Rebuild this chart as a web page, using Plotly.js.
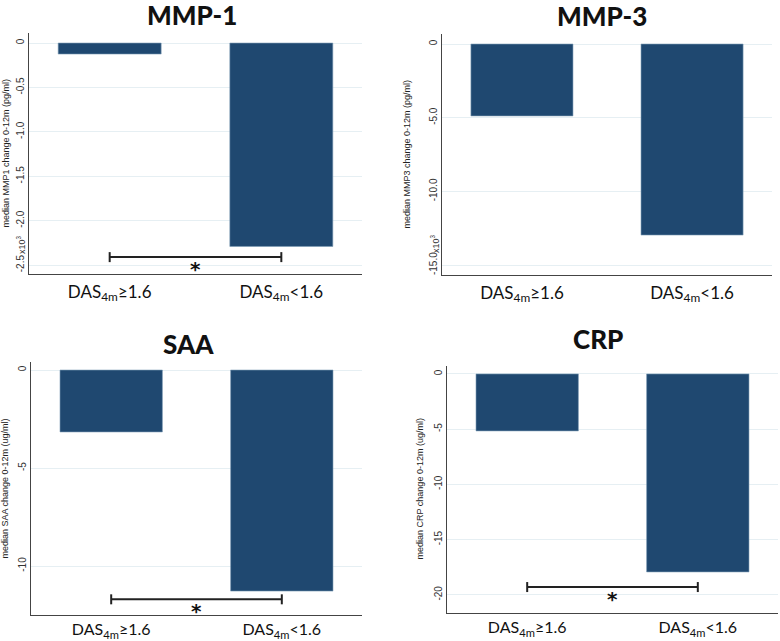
<!DOCTYPE html>
<html>
<head>
<meta charset="utf-8">
<script src="https://cdn.plot.ly/plotly-3.0.1.min.js"></script>
<style>html,body{margin:0;padding:0;background:#fff;}#chart{width:780px;height:641px;}</style>
</head>
<body>
<div id="chart"></div>
<script>
// ---- data ----
const categories = ["DAS<sub>4m</sub>≥1.6", "DAS<sub>4m</sub><1.6"];
const panelTitles = ["MMP-1", "MMP-3", "SAA", "CRP"];
const yTitles = [
  "median MMP1 change 0-12m (pg/ml)",
  "median MMP3 change 0-12m (pg/ml)",
  "median SAA change 0-12m (ug/ml)",
  "median CRP change 0-12m (ug/ml)"
];
// MMP values shown in units of 10^3 pg/ml
const mmp1Values = [-0.124, -2.29];
const mmp3Values = [-4.88, -12.96];
const saaValues = [-3.16, -11.28];
const crpValues = [-5.16, -17.93];
const mmp1Ticks = [0, -0.5, -1.0, -1.5, -2.0, -2.5];
const mmp1TickText = ["0", "-0.5", "-1.0", "-1.5", "-2.0", "-2.5"];
const mmp3Ticks = [0, -5, -10, -15];
const mmp3TickText = ["0", "-5.0", "-10.0", "-15.0"];
const saaTicks = [0, -5, -10];
const saaTickText = ["0", "-5", "-10"];
const crpTicks = [0, -5, -10, -15, -20];
const crpTickText = ["0", "-5", "-10", "-15", "-20"];
// significance bracket level (axis units); null = none
const bracketLevels = [-2.41, null, -11.7, -19.3];

// ---- layout ----
const W = 780, H = 641;
const boxes = [ // pixel boxes of plot areas [x0, x1, y0(top), y1(bottom)]
  [29, 362, 33, 274],
  [442, 772, 34, 275],
  [31, 362, 362, 615],
  [447, 778, 366, 613]
];
const yRanges = [[-2.60, 0.113], [-15.67, 0.68], [-12.5, 0.41], [-21.65, 0.72]];
const values = [mmp1Values, mmp3Values, saaValues, crpValues];
const tickVals = [mmp1Ticks, mmp3Ticks, saaTicks, crpTicks];
const tickTexts = [mmp1TickText, mmp3TickText, saaTickText, crpTickText];
const titlePos = [[192, 15], [602, 16], [188, 344], [598, 339]];
const yTitleX = [5, 407, 5, 419];
const expPos = [[21, 245], [435, 244], null, null];

const barColor = "#1f4870";
const data = [];
const layout = {
  width: W, height: H,
  margin: {l: 0, r: 0, t: 0, b: 0},
  paper_bgcolor: "#fff", plot_bgcolor: "#fff",
  showlegend: false,
  annotations: [], shapes: []
};
const sfx = ["", "2", "3", "4"];
for (let i = 0; i < 4; i++) {
  const b = boxes[i];
  const xa = "xaxis" + sfx[i], ya = "yaxis" + sfx[i];
  const xr = "x" + sfx[i], yr = "y" + sfx[i];
  data.push({
    type: "bar", x: [0, 1], y: values[i], xaxis: xr, yaxis: yr,
    width: 0.6,
    marker: {color: barColor, line: {color: "#7e9cb6", width: 0.6}},
    hoverinfo: "skip"
  });
  layout[xa] = {
    domain: [b[0] / W, b[1] / W],
    anchor: yr, range: [-0.47, 1.47],
    tickvals: [0, 1], ticktext: categories,
    showgrid: false, zeroline: false,
    showline: true, linecolor: "#444", linewidth: 1.2,
    ticks: "", ticklabelstandoff: i >= 2 ? 0 : 2,
    tickfont: {family: "Lato, 'Open Sans', sans-serif", size: i >= 2 ? 16 : 17, color: "#111"}
  };
  layout[ya] = {
    domain: [1 - b[3] / H, 1 - b[2] / H],
    anchor: xr, range: yRanges[i],
    tickvals: tickVals[i], ticktext: tickTexts[i],
    tickangle: -90,
    showgrid: true, gridcolor: "#e6eff3", gridwidth: 1,
    zeroline: false,
    showline: true, linecolor: "#444", linewidth: 1.2,
    ticks: "",
    tickfont: {family: "'Liberation Sans', Arial, sans-serif", size: 10, color: "#333"}
  };
  layout.annotations.push({
    text: panelTitles[i], xref: "paper", yref: "paper",
    x: titlePos[i][0] / W, y: 1 - titlePos[i][1] / H,
    xanchor: "center", yanchor: "middle", showarrow: false,
    font: {family: "Lato, 'Open Sans', sans-serif", size: 26, color: "#111", weight: 900}
  });
  layout.annotations.push({
    text: yTitles[i], xref: "paper", yref: "paper", textangle: -90,
    x: yTitleX[i] / W, y: 1 - ((b[2] + b[3]) / 2) / H,
    xanchor: "center", yanchor: "middle", showarrow: false,
    font: {family: "'Liberation Sans', Arial, sans-serif", size: 9, color: "#222"}
  });
  if (expPos[i]) {
    layout.annotations.push({
      text: "x10<sup>3</sup>", xref: "paper", yref: "paper", textangle: -90,
      x: expPos[i][0] / W, y: 1 - expPos[i][1] / H,
      xanchor: "center", yanchor: "middle", showarrow: false,
      font: {family: "'Liberation Sans', Arial, sans-serif", size: 9, color: "#333"}
    });
  }
  const lv = bracketLevels[i];
  if (lv !== null) {
    layout.shapes.push({type: "line", xref: xr, yref: yr, x0: 0, x1: 1, y0: lv, y1: lv,
      line: {color: "#222", width: 2}});
    [0, 1].forEach(function (cx) {
      layout.shapes.push({type: "line", xref: xr, yref: yr, ysizemode: "pixel", yanchor: lv,
        x0: cx, x1: cx, y0: -5, y1: 5, line: {color: "#222", width: 2}});
    });
    layout.annotations.push({
      text: "<b>*</b>", xref: xr, yref: yr, x: 0.5, y: lv,
      xanchor: "center", yanchor: "top", showarrow: false, yshift: 2,
      font: {family: "'DejaVu Sans', sans-serif", size: 20, color: "#111"}
    });
  }
}
Plotly.newPlot("chart", data, layout, {staticPlot: true, displayModeBar: false});
</script>
</body>
</html>
